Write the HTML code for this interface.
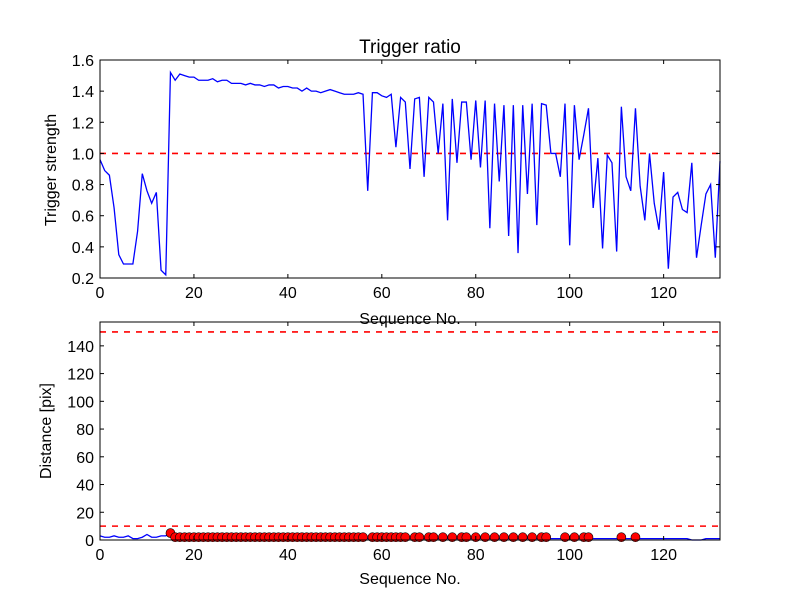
<!DOCTYPE html>
<html><head><meta charset="utf-8"><style>
body{margin:0;background:#fff;}
svg text{font-family:"Liberation Sans",sans-serif;}
</style></head><body>
<svg id="c" width="800" height="600" xmlns="http://www.w3.org/2000/svg"></svg>
<script>
const ratio=[0.96,0.89,0.86,0.65,0.35,0.29,0.29,0.29,0.5,0.87,0.76,0.68,0.75,0.25,0.22,1.52,1.47,1.51,1.50,1.49,1.49,1.47,1.47,1.47,1.48,1.46,1.47,1.47,1.45,1.45,1.45,1.44,1.45,1.44,1.44,1.43,1.44,1.44,1.42,1.43,1.43,1.42,1.42,1.40,1.42,1.40,1.40,1.39,1.40,1.41,1.40,1.39,1.38,1.38,1.38,1.39,1.38,0.76,1.39,1.39,1.37,1.36,1.38,1.04,1.36,1.33,0.9,1.35,1.36,0.85,1.36,1.33,1.0,1.32,0.57,1.35,0.94,1.33,1.33,0.96,1.34,0.91,1.34,0.52,1.32,0.82,1.31,0.47,1.31,0.36,1.31,0.74,1.32,0.54,1.32,1.31,1.0,1.0,0.85,1.32,0.41,1.31,0.96,1.12,1.29,0.65,0.97,0.39,0.99,0.94,0.37,1.30,0.85,0.76,1.29,0.79,0.57,1.0,0.68,0.51,0.88,0.26,0.72,0.75,0.64,0.62,0.94,0.33,0.54,0.74,0.8,0.33,0.95];
const distEarly=[3,2,2,3,2,2,3,1,1,2,4,2,2,3,3,5];
const ratioThreshold=1.0;
const distThresholds=[150,10];
const xTicks=[0,20,40,60,80,100,120];
const yTicksTop=[0.2,0.4,0.6,0.8,1.0,1.2,1.4,1.6];
const yTicksBot=[0,20,40,60,80,100,120,140];
const svg=document.getElementById('c');
const NS='http://www.w3.org/2000/svg';
function mk(t,a,p){const e=document.createElementNS(NS,t);for(const k in a)e.setAttribute(k,a[k]);(p||svg).appendChild(e);return e;}
const X0=100,X1=720,XMAX=132;
const sx=v=>X0+v/XMAX*(X1-X0);
const T0=60,T1=278,sy1=v=>T1-(v-0.2)/1.4*(T1-T0);
const B0=322,B1=540,sy2=v=>B1-v/157.2*(B1-B0);
const dist=ratio.map((r,i)=>i<distEarly.length?distEarly[i]:(i>=126&&i<=128?0:(r>ratioThreshold?2:1)));
function axes(top,bot,sy,yt,fmt,name){
  const g=mk('g',{});
  xTicks.forEach(v=>{const x=sx(v);mk('line',{x1:x,x2:x,y1:bot,y2:bot-4,stroke:'#000'},g);mk('line',{x1:x,x2:x,y1:top,y2:top+4,stroke:'#000'},g);
    const t=mk('text',{x:x,y:bot+20,'text-anchor':'middle','font-size':16},g);t.textContent=v;});
  yt.forEach(v=>{const y=sy(v);mk('line',{x1:X0,x2:X0+4,y1:y,y2:y,stroke:'#000'},g);mk('line',{x1:X1,x2:X1-4,y1:y,y2:y,stroke:'#000'},g);
    const t=mk('text',{x:X0-6,y:y+6,'text-anchor':'end','font-size':16},g);t.textContent=fmt(v);});
}
let l=mk('line',{x1:X0,x2:X1,y1:sy1(ratioThreshold),y2:sy1(ratioThreshold),stroke:'#ff0000','stroke-dasharray':'6,6','stroke-width':1.6});

let p=mk('polyline',{points:ratio.map((v,i)=>sx(i)+','+sy1(v)).join(' '),fill:'none',stroke:'blue','stroke-width':1.3});

mk('rect',{x:X0,y:T0,width:X1-X0,height:T1-T0,fill:'none',stroke:'#000'});
axes(T0,T1,sy1,yTicksTop,v=>v.toFixed(1),'top-axes');
let t=mk('text',{x:410,y:53,'text-anchor':'middle','font-size':19});t.textContent='Trigger ratio';
t=mk('text',{x:410,y:324,'text-anchor':'middle','font-size':16});t.textContent='Sequence No.';
t=mk('text',{x:56,y:170,'text-anchor':'middle','font-size':16,transform:'rotate(-90 56 170)'});t.textContent='Trigger strength';
distThresholds.forEach(d=>{const e=mk('line',{x1:X0,x2:X1,y1:sy2(d),y2:sy2(d),stroke:'#ff0000','stroke-dasharray':'6,6','stroke-width':1.6});});
p=mk('polyline',{points:dist.map((v,i)=>sx(i)+','+sy2(v)).join(' '),fill:'none',stroke:'blue','stroke-width':1.3});

dist.forEach((v,i)=>{if(ratio[i]>ratioThreshold){const c=mk('circle',{cx:sx(i),cy:sy2(v),r:4.5,fill:'red',stroke:'#000','stroke-width':0.6});}});
mk('rect',{x:X0,y:B0,width:X1-X0,height:B1-B0,fill:'none',stroke:'#000'});
axes(B0,B1,sy2,yTicksBot,v=>v,'bottom-axes');
t=mk('text',{x:410,y:584,'text-anchor':'middle','font-size':16});t.textContent='Sequence No.';
t=mk('text',{x:51,y:431,'text-anchor':'middle','font-size':16,transform:'rotate(-90 51 431)'});t.textContent='Distance [pix]';
</script>
</body></html>
